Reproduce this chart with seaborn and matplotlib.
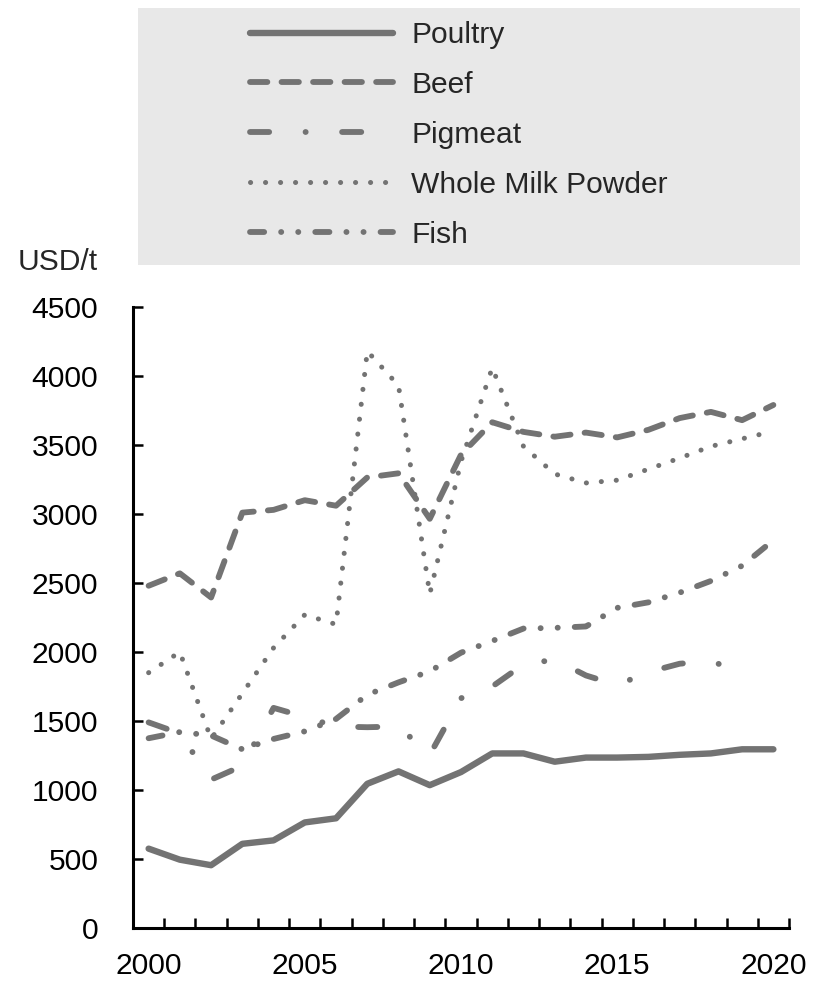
import numpy as np
import pandas as pd
import matplotlib
matplotlib.use("Agg")
import matplotlib.pyplot as plt
from matplotlib.patches import Rectangle
import seaborn as sns

sns.set_style("white")
plt.rcParams["font.family"] = ["Liberation Sans", "DejaVu Sans"]
plt.rcParams["lines.scale_dashes"] = False

# ---------------- data ----------------
years = list(range(2000, 2021))
series_names = ["Poultry", "Beef", "Pigmeat", "Whole Milk Powder", "Fish"]
poultry = [575, 495, 455, 610, 635, 765, 795, 1045, 1135, 1035, 1130,
           1265, 1265, 1205, 1235, 1235, 1240, 1255, 1265, 1295, 1295]
beef = [2480, 2570, 2395, 3010, 3030, 3100, 3060, 3265, 3295, 2965, 3430,
        3665, 3595, 3560, 3590, 3555, 3610, 3695, 3740, 3680, 3790]
pigmeat = [1490, 1410, 1075, 1175, 1595, 1530, 1460, 1455, 1460, 1255, 1665,
           1750, 1910, 1945, 1830, 1760, 1855, 1915, 1935, 1850, np.nan]
milk = [1850, 2000, 1370, 1700, 2030, 2270, 2200, 4180, 3930, 2420, 3380,
        4060, 3490, 3290, 3225, 3245, 3325, 3405, 3490, 3545, 3600]
fish = [1375, 1420, 1395, 1295, 1370, 1425, 1515, 1690, 1780, 1860, 1995,
        2080, 2170, 2175, 2185, 2320, 2360, 2430, 2515, 2625, 2810]
y_ticks = [0, 500, 1000, 1500, 2000, 2500, 3000, 3500, 4000, 4500]
x_labels = [2000, 2005, 2010, 2015, 2020]
unit_label = "USD/t"

df = pd.DataFrame({"Year": years, "Poultry": poultry, "Beef": beef,
                   "Pigmeat": pigmeat, "Whole Milk Powder": milk, "Fish": fish})
long = df.melt(id_vars="Year", var_name="Series", value_name="Value")

# ---------------- styles ----------------
GREY = "#737373"
LW = 4.2
styles = {
    "Poultry": dict(linewidth=4.6, linestyle="-"),
    "Beef": dict(linewidth=LW, linestyle=(0, (12.5, 10.2))),
    "Pigmeat": dict(linewidth=LW, linestyle=(0, (13.8, 26.2, 0.1, 26.2))),
    "Whole Milk Powder": dict(linewidth=3.6, linestyle=(0, (0.1, 10.7))),
    "Fish": dict(linewidth=LW, linestyle=(0, (10.2, 12.2, 0.1, 12.2, 0.1, 12.2))),
}

W, H = 825, 982
fig = plt.figure(figsize=(W / 100, H / 100), dpi=100)
fig.patch.set_facecolor("white")

# legend background box
fig.patches.append(Rectangle((138 / W, 1 - 265 / H), (800 - 138) / W, (265 - 8) / H,
                             transform=fig.transFigure, facecolor="#e8e8e8",
                             edgecolor="none", zorder=0))

left, right, bottom, top = 133, 789, 928, 307
ax = fig.add_axes([left / W, 1 - bottom / H, (right - left) / W, (bottom - top) / H])
ax.set_facecolor("white")

for name in series_names:
    sub = long[long["Series"] == name]
    sns.lineplot(data=sub, x="Year", y="Value", ax=ax, color=GREY,
                 estimator=None, legend=False, label=name,
                 dash_capstyle="round", solid_capstyle="round",
                 solid_joinstyle="round", dash_joinstyle="round",
                 **styles[name])

ax.set_xlim(1999.5, 2020.5)
ax.set_ylim(0, 4500)
ax.set_yticks(y_ticks)
ax.set_xticks(x_labels)
ax.set_xticks(np.arange(2000.5, 2020.6, 1.0), minor=True)
ax.set_xlabel("")
ax.set_ylabel("")
ax.grid(False)

FS = 21.6
ax.tick_params(axis="x", which="major", length=0, pad=17, labelsize=FS, colors="black")
ax.tick_params(axis="x", which="minor", direction="in", length=7, width=1.8,
               bottom=True, color="black")
ax.tick_params(axis="y", which="major", direction="in", length=7, width=1.8,
               left=True, pad=25, labelsize=FS, colors="black")
sns.despine(ax=ax)
for s in ["left", "bottom"]:
    ax.spines[s].set_linewidth(2.2)
    ax.spines[s].set_color("black")

fig.text(18 / W, 1 - 262 / H, unit_label, fontsize=FS, ha="left", va="center")

handles = ax.get_lines()[:len(series_names)]
fig.legend(handles, series_names, loc="upper left",
           bbox_to_anchor=(250 / W, 1 - 21 / H), frameon=False, fontsize=FS,
           handlelength=4.75, handletextpad=0.62, labelspacing=0.73,
           borderpad=0, borderaxespad=0)

fig.savefig("out.png", dpi=100, facecolor="white")
